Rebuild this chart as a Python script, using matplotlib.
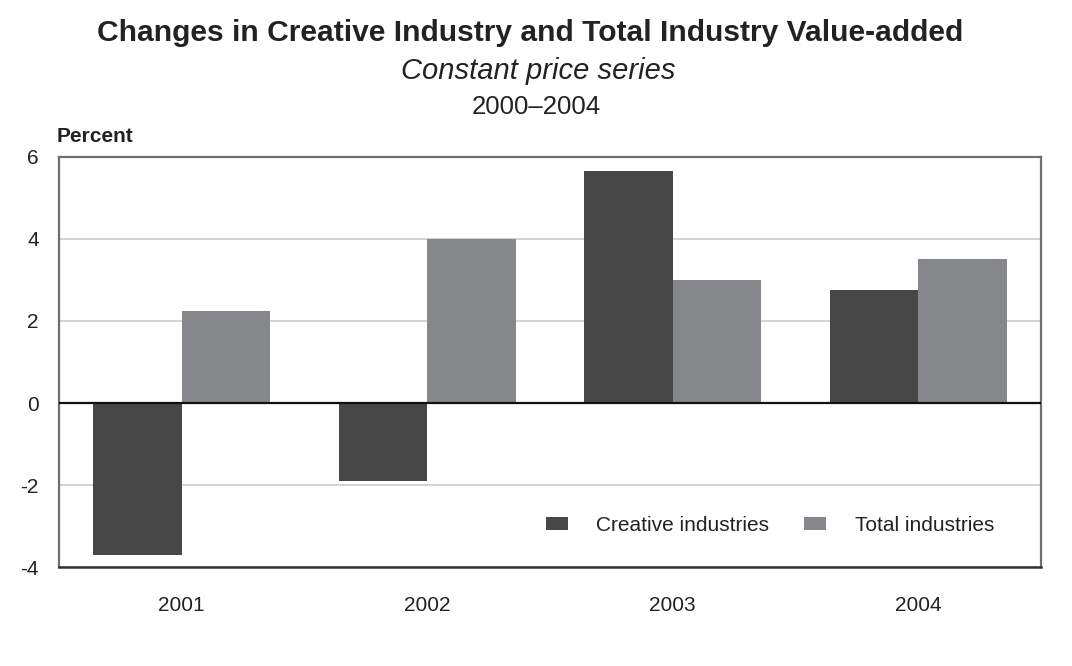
import numpy as np
import matplotlib.pyplot as plt
from matplotlib.ticker import FuncFormatter

plt.rcParams['font.family'] = ['Liberation Sans', 'DejaVu Sans']

years = ['2001', '2002', '2003', '2004']
creative = [-3.7, -1.9, 5.65, 2.75]
total = [2.25, 4.0, 3.0, 3.5]

dark = '#474747'
mid = '#86878a'
text_col = '#222222'

fig = plt.figure(figsize=(10.72, 6.66), dpi=100)
ax = fig.add_axes([0.055, 0.1486, 0.916, 0.6157])

x = np.arange(len(years))
w = 0.36
ax.bar(x - w / 2, creative, w, color=dark, label='Creative industries', zorder=3)
ax.bar(x + w / 2, total, w, color=mid, label='Total industries', zorder=3)

ax.set_xlim(-0.5, 3.5)
ax.set_ylim(-4, 6)
ax.set_yticks([-4, -2, 0, 2, 4, 6])
# plain hyphen for negatives
ax.yaxis.set_major_formatter(FuncFormatter(lambda v, p: '%d' % v))
ax.set_xticks(x)
ax.set_xticklabels(years)
ax.tick_params(length=0, labelsize=15, colors=text_col)
ax.tick_params(axis='x', pad=21)
ax.tick_params(axis='y', pad=14.5)

ax.yaxis.grid(True, color='#cccccc', linewidth=1.2, zorder=0)
ax.axhline(0, color='#111111', linewidth=1.6, zorder=4)
for side in ['left', 'top', 'right']:
    ax.spines[side].set_color('#6f6f6f')
    ax.spines[side].set_linewidth(1.6)
ax.spines['bottom'].set_color('#333333')
ax.spines['bottom'].set_linewidth(1.8)

ax.legend(loc='center', bbox_to_anchor=(0.724, 0.102), ncol=2, frameon=False,
          fontsize=15, handlelength=1.06, handleheight=0.62,
          handletextpad=1.35, columnspacing=1.7, labelcolor=text_col)

fig.text(0.4945, 0.951, 'Changes in Creative Industry and Total Industry Value-added',
         ha='center', va='center', fontsize=21.6, fontweight='bold', color=text_col)
fig.text(0.502, 0.894, 'Constant price series', ha='center', va='center',
         fontsize=21, style='italic', color=text_col)
fig.text(0.5, 0.840, '2000\u20132004', ha='center', va='center',
         fontsize=18.5, color=text_col)
fig.text(0.053, 0.795, 'Percent', ha='left', va='center',
         fontsize=15, fontweight='bold', color=text_col)

fig.savefig('out.png', dpi=100, facecolor='white')
